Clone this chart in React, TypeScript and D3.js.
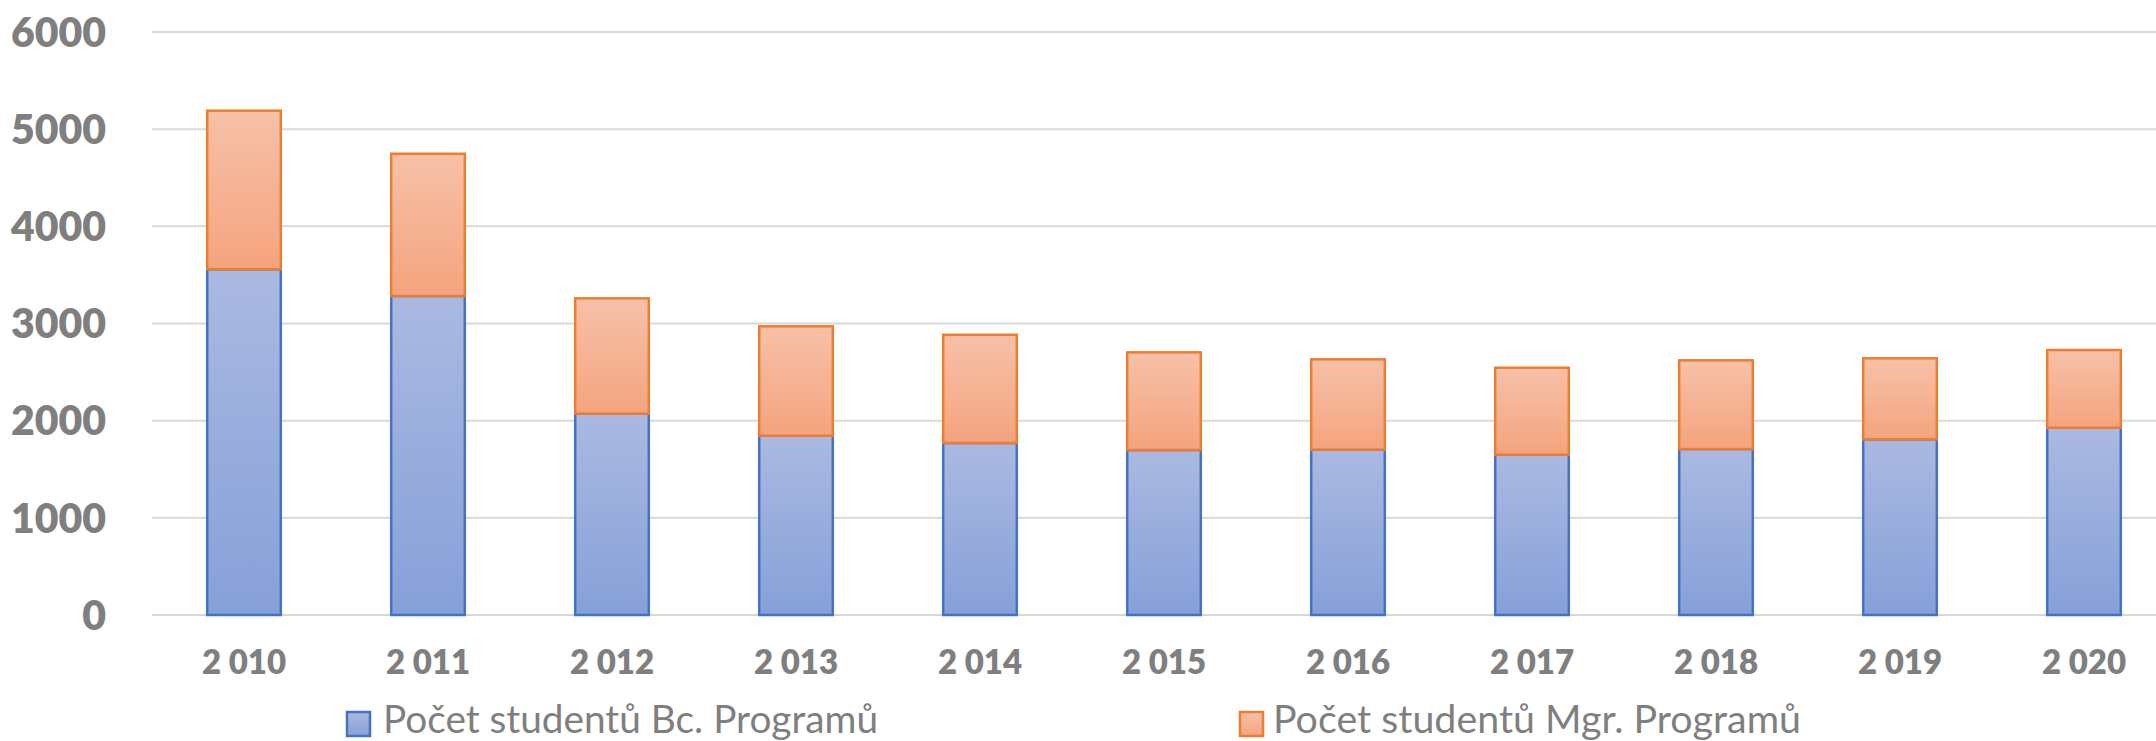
import * as d3 from 'd3'
import React, { useRef, useEffect } from 'react'

const years = ['2 010', '2 011', '2 012', '2 013', '2 014', '2 015', '2 016', '2 017', '2 018', '2 019', '2 020']
const bcStudents = [3558, 3283, 2072, 1845, 1770, 1698, 1702, 1650, 1708, 1808, 1928]
const mgrStudents = [1632, 1464, 1187, 1126, 1114, 1005, 929, 895, 913, 834, 799]
const yTicks = [0, 1000, 2000, 3000, 4000, 5000, 6000]
const seriesNames = ['Počet studentů Bc. Programů', 'Počet studentů Mgr. Programů']

const W = 2156
const H = 741

export default function App() {
    const ref = useRef<SVGSVGElement>(null)

    useEffect(() => {
        const svg = d3.select(ref.current)
        svg.selectAll('*').remove()

        const x = d3.scaleBand().domain(years).range([152, 2176]).paddingInner(0.6).paddingOuter(0.3)
        const y = d3.scaleLinear().domain([0, 6000]).range([615, 32])

        // gradients like the excel fill
        const defs = svg.append('defs')
        const grads = [
            { id: 'gBlue', top: '#abb9e1', bottom: '#86a0d8' },
            { id: 'gOrange', top: '#f7c1a8', bottom: '#f4a47e' },
        ]
        grads.forEach(g => {
            const lg = defs.append('linearGradient').attr('id', g.id).attr('x1', 0).attr('y1', 0).attr('x2', 0).attr('y2', 1)
            lg.append('stop').attr('offset', '0%').attr('stop-color', g.top)
            lg.append('stop').attr('offset', '100%').attr('stop-color', g.bottom)
        })

        // gridlines
        svg.append('g')
            .selectAll('line')
            .data(yTicks)
            .join('line')
            .attr('x1', 152)
            .attr('x2', W)
            .attr('y1', d => y(d))
            .attr('y2', d => y(d))
            .attr('stroke', '#d9d9d9')
            .attr('stroke-width', 2)

        // y labels
        svg.append('g')
            .selectAll('text')
            .data(yTicks)
            .join('text')
            .attr('x', 106)
            .attr('y', d => y(d))
            .attr('dy', '0.36em')
            .attr('text-anchor', 'end')
            .style('font-family', 'Lato, sans-serif')
            .style('font-weight', 800)
            .style('font-size', '41px')
            .style('fill', '#7f7f7f')
            .text(d => d)

        const rows = years.map((yr, i) => ({ yr, bc: bcStudents[i], mgr: mgrStudents[i] }))
        const stack = d3.stack<any>().keys(['bc', 'mgr'])(rows)
        const fills = ['url(#gBlue)', 'url(#gOrange)']
        const strokes = ['#4472c4', '#ed7d31']

        svg.append('g')
            .selectAll('g')
            .data(stack)
            .join('g')
            .attr('fill', (d, i) => fills[i])
            .attr('stroke', (d, i) => strokes[i])
            .attr('stroke-width', 2.5)
            .selectAll('rect')
            .data(d => d)
            .join('rect')
            .attr('x', d => x(d.data.yr)!)
            .attr('width', x.bandwidth())
            .attr('y', d => y(d[1]))
            .attr('height', d => y(d[0]) - y(d[1]))

        // x labels
        svg.append('g')
            .selectAll('text')
            .data(years)
            .join('text')
            .attr('x', d => x(d)! + x.bandwidth() / 2)
            .attr('y', 674)
            .attr('text-anchor', 'middle')
            .style('font-family', 'Lato, sans-serif')
            .style('font-weight', 800)
            .style('font-size', '33px')
            .style('fill', '#7f7f7f')
            .text(d => d)

        // legend
        const legend = [
            { x: 347, tx: 383, len: 495 },
            { x: 1240, tx: 1273, len: 528 },
        ]
        const lg = svg.append('g')
        legend.forEach((l, i) => {
            lg.append('rect')
                .attr('x', l.x)
                .attr('y', 712)
                .attr('width', 23)
                .attr('height', 24)
                .attr('fill', fills[i])
                .attr('stroke', strokes[i])
                .attr('stroke-width', 2.5)
            lg.append('text')
                .attr('x', l.tx)
                .attr('y', 733)
                .attr('textLength', l.len)
                .attr('lengthAdjust', 'spacingAndGlyphs')
                .style('font-family', 'Lato, sans-serif')
                .style('font-size', '38px')
                .style('fill', '#7f7f7f')
                .text(seriesNames[i])
        })
    }, [])

    return (
        <div>
            <svg
                ref={ref}
                width={W}
                height={H}
                style={{ position: 'absolute', left: 0, top: 0, display: 'block', background: '#fff' }}
            />
        </div>
    )
}
